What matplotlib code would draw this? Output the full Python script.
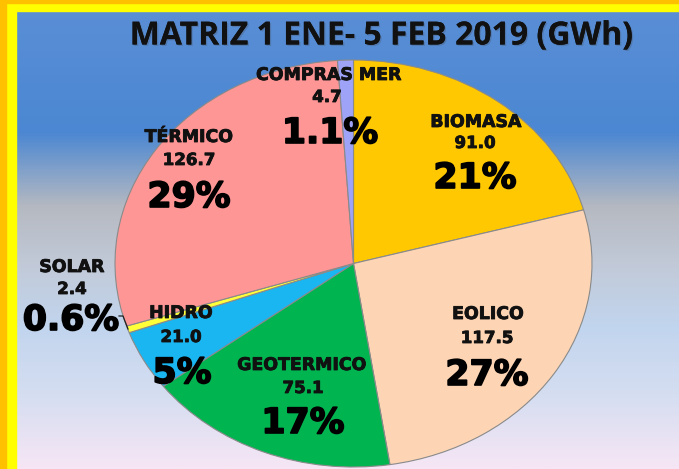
import numpy as np
import matplotlib.pyplot as plt
from matplotlib.patches import Rectangle
from matplotlib.colors import LinearSegmentedColormap
import matplotlib.patheffects as pe

W, H = 679, 469

labels = ['BIOMASA', 'EOLICO', 'GEOTERMICO', 'HIDRO', 'SOLAR', 'TÉRMICO', 'COMPRAS MER']
values = [91.0, 117.5, 75.1, 21.0, 2.4, 126.7, 4.7]
pct_text = ['21%', '27%', '17%', '5%', '0.6%', '29%', '1.1%']
colors = ['#FFC800', '#FDD5B4', '#00B550', '#1AB6F2', '#FFFF3A', '#FF9696', '#9FA3F7']

# label anchor points (pixels, from top-left): name, value, percent
label_pos = {
    'BIOMASA':     [(476, 122), (475, 143), (475, 178)],
    'EOLICO':      [(488, 314), (487, 338), (487, 375)],
    'GEOTERMICO':  [(302, 365), (303, 388), (303, 423)],
    'HIDRO':       [(181, 313), (181, 337), (182, 373)],
    'SOLAR':       [(72, 267), (72, 289), (71, 320)],
    'TÉRMICO':     [(189, 137), (189, 160), (189, 197)],
    'COMPRAS MER': [(329, 75), (327, 97), (330, 133)],
}


def px(x, y):
    return x / W, 1 - y / H


fig = plt.figure(figsize=(W / 100, H / 100), dpi=100)

# background gradient
bg = fig.add_axes([0, 0, 1, 1])
stops = [(0.0, '#5b8fd6'), (0.28, '#4b87d2'), (0.44, '#b5b9c1'),
         (0.56, '#c1c9d7'), (0.70, '#c2d5ee'), (0.85, '#d6def1'), (1.0, '#f6e6f5')]
cmap = LinearSegmentedColormap.from_list('bg', stops)
grad = np.linspace(0, 1, 400).reshape(-1, 1)
bg.imshow(grad, aspect='auto', cmap=cmap, extent=[0, W, H, 0])
bg.set_xlim(0, W)
bg.set_ylim(H, 0)
bg.axis('off')

# frame
bg.add_patch(Rectangle((0, 0), W, 3, color='#FFC000', zorder=3))
bg.add_patch(Rectangle((0, 0), 6, H, color='#FFC000', zorder=3))
bg.add_patch(Rectangle((6, 3), W, 8, color='#FFFF00', zorder=2))
bg.add_patch(Rectangle((6, 3), 10, H, color='#FFFF00', zorder=2))

fig.text(*px(382, 36), 'MATRIZ 1 ENE- 5 FEB 2019 (GWh)', fontsize=23, fontweight='bold',
         family='Open Sans', ha='center', va='center', color='#111111',
         path_effects=[pe.withSimplePatchShadow(offset=(1, -1), shadow_rgbFace='#444444', alpha=0.25),
                       pe.Normal()])

# pie
ax = fig.add_axes([115 / W, 2 / H, 477 / W, 407 / H])
wedges, _ = ax.pie(values, colors=colors, startangle=90, counterclock=False,
                   wedgeprops=dict(edgecolor='#8a8a8a', linewidth=0.8))
ax.set_aspect('auto')
ax.set_xlim(-1, 1)
ax.set_ylim(-1, 1)

heavy = [pe.withStroke(linewidth=0.6, foreground='#111111')]
heavy_big = [pe.withStroke(linewidth=1.2, foreground='#000000')]

for name, pct in zip(labels, pct_text):
    (nx, ny), (vx, vy), (qx, qy) = label_pos[name]
    v = values[labels.index(name)]
    fig.text(*px(nx, ny), name, fontsize=12.5, fontweight='bold', family='DejaVu Sans',
             ha='center', va='center', color='#111111', path_effects=heavy)
    fig.text(*px(vx, vy), f'{v:.1f}', fontsize=12, fontweight='bold', family='DejaVu Sans',
             ha='center', va='center', color='#111111', path_effects=heavy)
    fig.text(*px(qx, qy), pct, fontsize=25, fontweight='bold', family='DejaVu Sans',
             ha='center', va='center', color='#000000', path_effects=heavy_big)

# leader line for SOLAR
lx = [119 / W, 123 / W, 128 / W]
ly = [1 - 316 / H, 1 - 316 / H, 1 - 329 / H]
fig.add_artist(plt.Line2D(lx, ly, color='#222222', lw=0.9))

fig.savefig('out.png', dpi=100)
